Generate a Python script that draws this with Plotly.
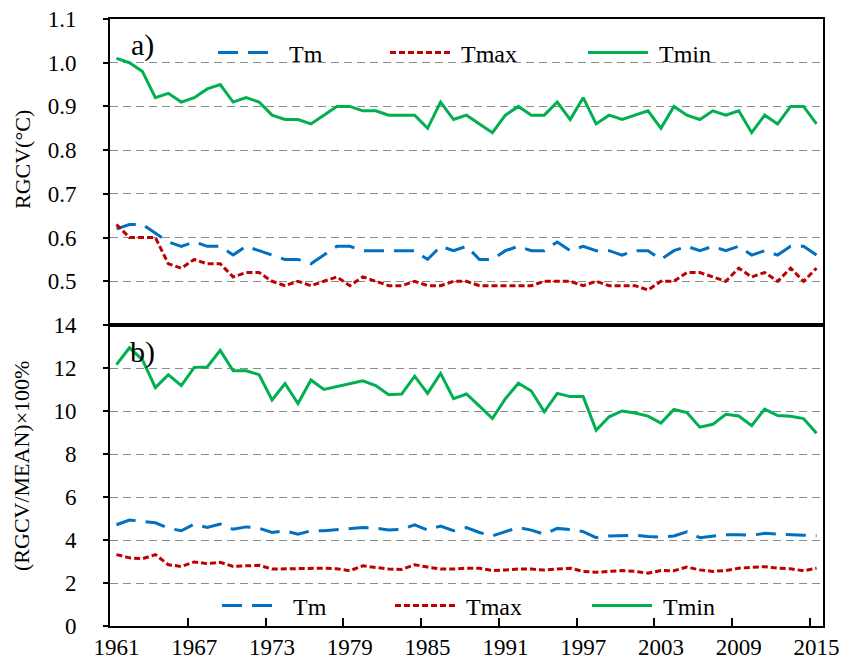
import plotly.graph_objects as go

years = list(range(1961, 2016))

# Panel a) RGCV (°C)
rgcv_tm = [0.62, 0.63, 0.63, 0.61, 0.59, 0.58, 0.59, 0.58, 0.58, 0.56,
           0.58, 0.57, 0.56, 0.55, 0.55, 0.54, 0.56, 0.58, 0.58, 0.57,
           0.57, 0.57, 0.57, 0.57, 0.55, 0.58, 0.57, 0.58, 0.55, 0.55,
           0.57, 0.58, 0.57, 0.57, 0.59, 0.57, 0.58, 0.57, 0.57, 0.56,
           0.57, 0.57, 0.55, 0.57, 0.58, 0.57, 0.58, 0.57, 0.58, 0.56,
           0.57, 0.56, 0.58, 0.58, 0.56]
rgcv_tmax = [0.63, 0.60, 0.60, 0.60, 0.54, 0.53, 0.55, 0.54, 0.54, 0.51,
             0.52, 0.52, 0.50, 0.49, 0.50, 0.49, 0.50, 0.51, 0.49, 0.51,
             0.50, 0.49, 0.49, 0.50, 0.49, 0.49, 0.50, 0.50, 0.49, 0.49,
             0.49, 0.49, 0.49, 0.50, 0.50, 0.50, 0.49, 0.50, 0.49, 0.49,
             0.49, 0.48, 0.50, 0.50, 0.52, 0.52, 0.51, 0.50, 0.53, 0.51,
             0.52, 0.50, 0.53, 0.50, 0.53]
rgcv_tmin = [1.01, 1.00, 0.98, 0.92, 0.93, 0.91, 0.92, 0.94, 0.95, 0.91,
             0.92, 0.91, 0.88, 0.87, 0.87, 0.86, 0.88, 0.90, 0.90, 0.89,
             0.89, 0.88, 0.88, 0.88, 0.85, 0.91, 0.87, 0.88, 0.86, 0.84,
             0.88, 0.90, 0.88, 0.88, 0.91, 0.87, 0.92, 0.86, 0.88, 0.87,
             0.88, 0.89, 0.85, 0.90, 0.88, 0.87, 0.89, 0.88, 0.89, 0.84,
             0.88, 0.86, 0.90, 0.90, 0.86]

# Panel b) (RGCV/MEAN) x 100%
pct_tm = [4.71, 4.93, 4.87, 4.80, 4.55, 4.43, 4.74, 4.58, 4.74, 4.50,
          4.61, 4.55, 4.35, 4.43, 4.27, 4.43, 4.43, 4.47, 4.54, 4.58,
          4.55, 4.47, 4.49, 4.71, 4.46, 4.65, 4.43, 4.58, 4.35, 4.19,
          4.39, 4.58, 4.46, 4.27, 4.54, 4.49, 4.39, 4.11, 4.19, 4.22,
          4.22, 4.16, 4.14, 4.19, 4.38, 4.11, 4.19, 4.25, 4.25, 4.22,
          4.31, 4.27, 4.24, 4.22, 4.20]
pct_tmax = [3.32, 3.17, 3.13, 3.32, 2.85, 2.77, 2.98, 2.90, 2.96, 2.77,
            2.80, 2.82, 2.65, 2.66, 2.69, 2.71, 2.69, 2.66, 2.57, 2.80,
            2.72, 2.65, 2.63, 2.85, 2.74, 2.65, 2.65, 2.69, 2.69, 2.58,
            2.61, 2.65, 2.65, 2.60, 2.65, 2.69, 2.54, 2.50, 2.54, 2.58,
            2.54, 2.46, 2.58, 2.57, 2.74, 2.61, 2.54, 2.58, 2.69, 2.72,
            2.76, 2.69, 2.66, 2.57, 2.69]
pct_tmin = [12.16, 12.94, 12.39, 11.09, 11.69, 11.18, 12.03, 12.05, 12.82, 11.87,
            11.87, 11.69, 10.51, 11.28, 10.35, 11.44, 11.00, 11.14, 11.28, 11.40,
            11.18, 10.76, 10.79, 11.62, 10.82, 11.75, 10.57, 10.79, 10.23, 9.65,
            10.57, 11.29, 10.93, 9.96, 10.82, 10.67, 10.67, 9.10, 9.73, 10.00,
            9.91, 9.76, 9.44, 10.07, 9.93, 9.25, 9.38, 9.85, 9.77, 9.32,
            10.09, 9.79, 9.76, 9.65, 8.97]

top_ticks = [0.5, 0.6, 0.7, 0.8, 0.9, 1.0, 1.1]
bottom_ticks = [0, 2, 4, 6, 8, 10, 12, 14]
label_years = years[::6]
between_ticks = [y + 5.5 for y in label_years[:-1]]

FONT = "Liberation Serif, Times New Roman, serif"
BLUE, RED, GREEN = "#0070C0", "#C00000", "#00B050"
NB = "\u00a0"
styles = [
    ("Tm", BLUE, "20px,10px"),
    ("Tmax", RED, "6px,3px"),
    ("Tmin", GREEN, "solid"),
]

# one legend per entry so the spacing can follow the original
top_legend_x = [0.1445, 0.3857, 0.6634]
bottom_legend_x = [0.1501, 0.3927, 0.6690]

fig = go.Figure()
for k, ((name, color, dash), vals) in enumerate(zip(styles, [rgcv_tm, rgcv_tmax, rgcv_tmin])):
    fig.add_trace(go.Scatter(x=years, y=vals, mode="lines", name=NB + name,
                             line=dict(color=color, width=3, dash=dash),
                             xaxis="x", yaxis="y", showlegend=True,
                             legend="legend" if k == 0 else f"legend{k + 1}"))
for k, ((name, color, dash), vals) in enumerate(zip(styles, [pct_tm, pct_tmax, pct_tmin])):
    fig.add_trace(go.Scatter(x=years, y=vals, mode="lines", name=NB + name,
                             line=dict(color=color, width=3, dash=dash),
                             xaxis="x2", yaxis="y2", showlegend=True,
                             legend=f"legend{k + 4}"))

split = (626 - 325) / 607
grid = dict(showgrid=True, gridcolor="#8c8c8c", gridwidth=1.3, griddash="8px,5px")
line = dict(showline=True, mirror=True, linecolor="black", linewidth=1.6,
            zeroline=False, automargin=False)
xr = [years[0] - 0.5, years[-1] + 0.5]
legend_common = dict(orientation="h", xanchor="left", yanchor="middle",
                     bgcolor="rgba(0,0,0,0)", font=dict(family=FONT, size=24),
                     itemwidth=60)
tickfont = dict(family=FONT, size=23)

legends = {}
for k, lx in enumerate(top_legend_x):
    legends["legend" if k == 0 else f"legend{k + 1}"] = dict(x=lx, y=0.944, **legend_common)
for k, lx in enumerate(bottom_legend_x):
    legends[f"legend{k + 4}"] = dict(x=lx, y=0.033, **legend_common)

fig.update_layout(
    width=856, height=665,
    showlegend=True,
    margin=dict(l=110, r=33, t=19, b=39, autoexpand=False),
    paper_bgcolor="white", plot_bgcolor="white",
    font=dict(family=FONT, size=22, color="black"),
    xaxis=dict(domain=[0, 1], anchor="y", range=xr, showticklabels=False,
               ticks="", showgrid=False, **line),
    yaxis=dict(domain=[split, 1], anchor="x", range=[0.4, 1.1],
               tickmode="array", tickvals=top_ticks,
               ticktext=[f"{v:.1f}" for v in top_ticks], tickfont=tickfont,
               ticks="outside", ticklen=5, tickwidth=1.5, tickcolor="black",
               ticklabelstandoff=22,
               **grid, **line),
    xaxis2=dict(domain=[0, 1], anchor="y2", range=xr, showgrid=False,
                tickmode="array", tickvals=label_years, tickfont=tickfont,
                ticktext=[str(y) for y in label_years], ticks="",
                minor=dict(tickmode="array", tickvals=between_ticks, ticks="inside",
                           ticklen=8, tickwidth=1.5, tickcolor="black", showgrid=False),
                **line),
    yaxis2=dict(domain=[0, split], anchor="x2", range=[0, 14],
                tickmode="array", tickvals=bottom_ticks, tickfont=tickfont,
                ticks="outside", ticklen=5, tickwidth=1.5, tickcolor="black",
                ticklabelstandoff=22,
                **grid, **line),
    annotations=[
        dict(text="a)", xref="paper", yref="paper", x=0.0449, y=0.957,
             xanchor="center", yanchor="middle", showarrow=False,
             font=dict(family=FONT, size=30)),
        dict(text="b)", xref="paper", yref="paper", x=0.0449, y=0.451,
             xanchor="center", yanchor="middle", showarrow=False,
             font=dict(family=FONT, size=30)),
        dict(text="RGCV(°C)", xref="paper", yref="paper", x=-0.1234, y=0.7677,
             xanchor="center", yanchor="middle", textangle=-90, showarrow=False,
             font=dict(family=FONT, size=22)),
        dict(text="(RGCV/MEAN)×100%", xref="paper", yref="paper", x=-0.1234, y=0.2636,
             xanchor="center", yanchor="middle", textangle=-90, showarrow=False,
             font=dict(family=FONT, size=22)),
    ],
    **legends,
)

fig.write_html("out.html")
